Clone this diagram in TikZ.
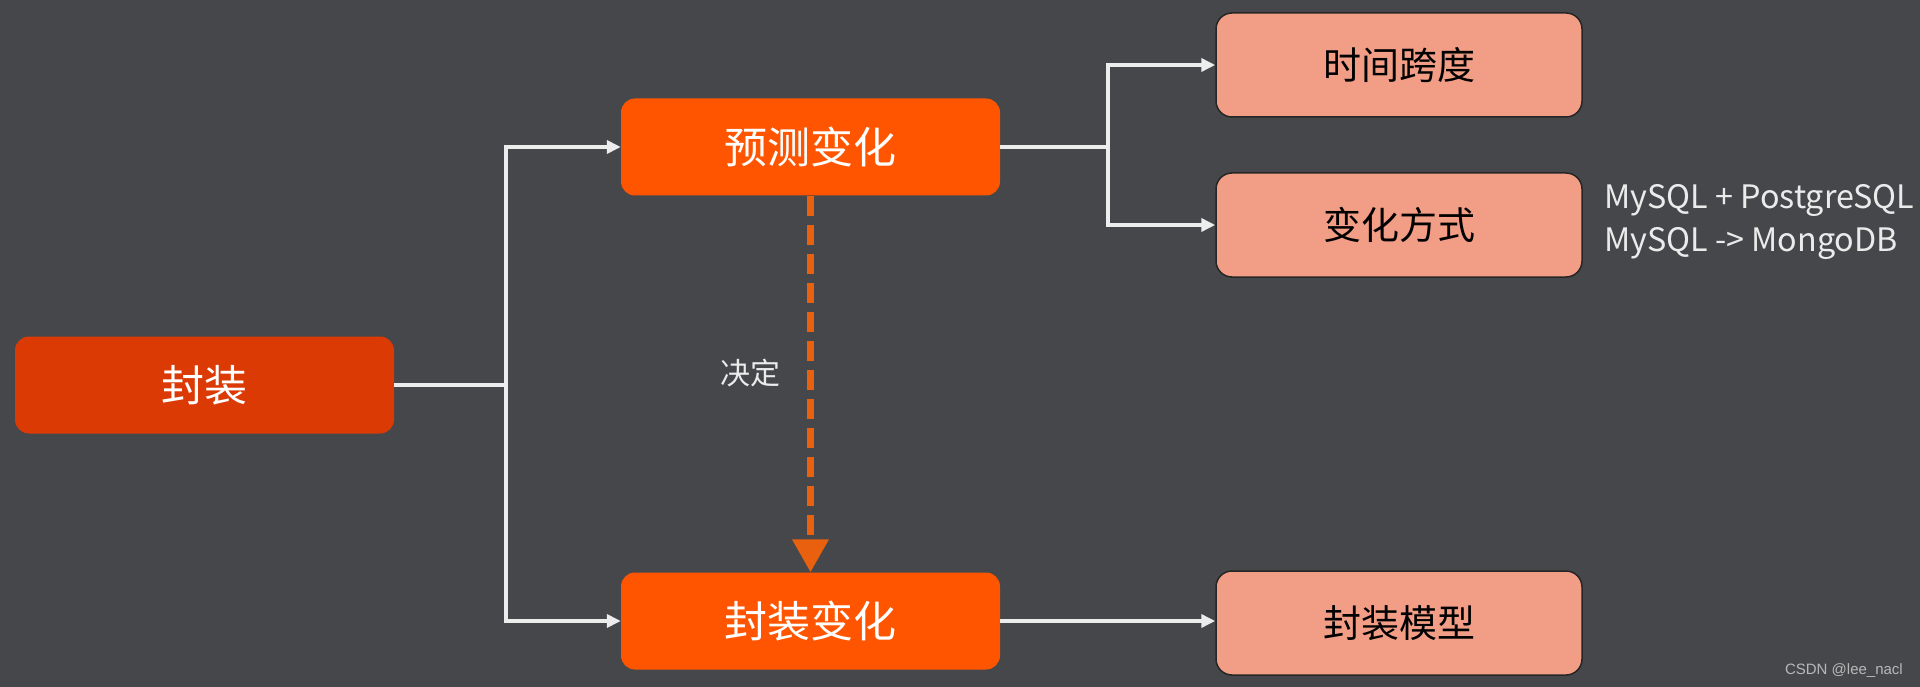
\documentclass[tikz,border=0pt]{standalone}
\usepackage{fontspec}
\setmainfont{Noto Sans CJK SC}
\newfontfamily\wmfont{Liberation Sans}
\usetikzlibrary{arrows.meta}
\definecolor{bg}{HTML}{46474A}
\definecolor{darkor}{HTML}{DC3A05}
\definecolor{orng}{HTML}{FF5500}
\definecolor{salmon}{HTML}{F29E86}
\definecolor{dashor}{HTML}{E9610F}
\definecolor{wline}{HTML}{EDEDED}
\definecolor{wmark}{HTML}{B8B8B8}
\begin{document}
\begin{tikzpicture}[x=1pt,y=-1pt,
  box/.style={rounded corners=14pt, minimum width=379pt, minimum height=97pt, inner sep=0pt, text=white, font=\fontsize{43}{50}\selectfont},
  mainbox/.style={box, fill=orng},
  rootbox/.style={box, fill=darkor},
  leaf/.style={rounded corners=16pt, minimum width=366pt, minimum height=104pt, inner sep=0pt, fill=salmon, draw=black!85, line width=1.5pt, text=black, font=\fontsize{38}{46}\selectfont},
  conn/.style={draw=wline, line width=3.5pt},
  arr/.style={conn, -{Triangle[length=14pt,width=13pt]}},
  darr/.style={draw=dashor, line width=7pt, dash pattern=on 20pt off 9pt, -{Triangle[length=33pt,width=35pt]}},
  note/.style={text=white!92!black, align=left, inner sep=0pt, font=\fontsize{32.3}{43}\selectfont}
]
\fill[bg] (0,0) rectangle (1920,687);
\useasboundingbox (0,0) rectangle (1920,687);

\node[rootbox] (root) at (204.5,385) {封装};
\node[mainbox] (pred) at (810.5,147) {预测变化};
\node[mainbox] (enc) at (810.5,621) {封装变化};
\node[leaf] (time) at (1399,65) {时间跨度};
\node[leaf] (way) at (1399,225) {变化方式};
\node[leaf] (model) at (1399,623) {封装模型};

\coordinate (j1) at (506,385);
\coordinate (j2) at (1108,147);

\draw[conn] (root.east) -- (j1);
\draw[arr] (j1) |- (pred.west);
\draw[arr] (j1) |- (enc.west);

\draw[conn] (pred.east) -- (j2);
\draw[arr] (j2) |- (time.west);
\draw[arr] (j2) |- (way.west);

\draw[arr] (enc.east) -- (enc.east -| model.west);

\draw[darr] (pred.south) -- (enc.north) node[pos=0.47, left=23pt, text=white!92!black, font=\fontsize{30}{36}\selectfont] (dec) {决定};

\node[note, anchor=west] (db) at (1604,222) {MySQL + PostgreSQL\\MySQL -> MongoDB};

\node[text=wmark, font=\wmfont\fontsize{15}{18}\selectfont, anchor=east, inner sep=0pt] (wm) at (1903,671) {CSDN @lee\_nacl};
\end{tikzpicture}
\end{document}
